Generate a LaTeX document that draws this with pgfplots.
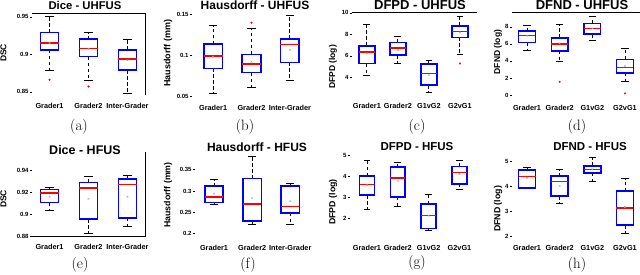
\documentclass[border=0pt]{standalone}
\usepackage{pgfplots}
\pgfplotsset{compat=1.18}
\usepgfplotslibrary{statistics}
\usepackage{fontspec}
\newfontfamily\arial{Liberation Sans}
\newcommand\fs[1]{\fontsize{#1}{#1}\selectfont}
\pgfplotsset{
  bp/.style={scale only axis, clip=false, axis line style={draw=none},
    xtick={1,2,3,4}, xtick style={draw=none}, ytick style={draw=black,line width=0.4pt},
    major tick length=1.8pt, tick align=outside, ytick pos=left, xtick pos=bottom,
    yticklabel style={font=\arial\bfseries\fs{6}, inner sep=1.5pt},
    xticklabel style={font=\arial\bfseries\fs{7.3}, yshift=-3pt},
    boxplot/draw direction=y,
    boxplot/whisker extend=0.22,
    boxplot/every box/.style={draw=blue, line width=1.6pt},
    boxplot/every median/.style={draw=red, line width=1.5pt},
    boxplot/draw/lower whisker/.code={%
      \draw[black, line width=0.9pt, dash pattern=on 3.5pt off 2.5pt]
        (boxplot box cs:\pgfplotsboxplotvalue{lower quartile},0.5) --
        (boxplot box cs:\pgfplotsboxplotvalue{lower whisker},0.5);
      \draw[black, line width=1pt, solid]
        (boxplot whisker cs:\pgfplotsboxplotvalue{lower whisker},0) --
        (boxplot whisker cs:\pgfplotsboxplotvalue{lower whisker},1);
    },
    boxplot/draw/upper whisker/.code={%
      \draw[black, line width=0.9pt, dash pattern=on 3.5pt off 2.5pt]
        (boxplot box cs:\pgfplotsboxplotvalue{upper quartile},0.5) --
        (boxplot box cs:\pgfplotsboxplotvalue{upper whisker},0.5);
      \draw[black, line width=1pt, solid]
        (boxplot whisker cs:\pgfplotsboxplotvalue{upper whisker},0) --
        (boxplot whisker cs:\pgfplotsboxplotvalue{upper whisker},1);
    },
  },
  bx/.style n args={6}{boxplot prepared={median=#1, upper quartile=#2, lower quartile=#3, upper whisker=#4, lower whisker=#5, draw position=#6}, mark=*, mark size=0.8pt, mark options={draw=red, fill=red, solid}},
  mn/.style={only marks, mark=x, mark size=1.1pt, gray!70, forget plot},
}
\begin{document}
\begin{tikzpicture}
\path[use as bounding box] (0pt,0pt) rectangle (640pt,-274pt);
% ---------- (a)
\begin{axis}[bp, at={(32pt,-95pt)}, anchor=south west, width=113pt, height=82pt,
  xmin=0.55, xmax=3.45, ymin=0.8457, ymax=0.955, boxplot/box extend=0.47,
  ytick={0.85,0.9,0.95}, yticklabels={0.85,0.9,0.95}, xticklabels={Grader1,Grader2,Inter-Grader}]
\addplot[bx={0.915}{0.929}{0.906}{0.951}{0.879}{1}] table[row sep=\\,y index=0] {0.866\\};
\addplot[bx={0.908}{0.920}{0.897}{0.929}{0.865}{2}] table[row sep=\\,y index=0] {0.857\\};
\addplot[bx={0.894}{0.906}{0.879}{0.920}{0.848}{3}] coordinates {};
\addplot[mn] coordinates {(1,0.915) (2,0.907) (3,0.892)};
\draw[black, line width=0.6pt] (rel axis cs:0,1) -- (rel axis cs:1,1) -- (rel axis cs:1,0);
\end{axis}
% ---------- (b)
\begin{axis}[bp, at={(192pt,-97pt)}, anchor=south west, width=119pt, height=84pt,
  xmin=0.45, xmax=3.55, ymin=0.0496, ymax=0.1512, boxplot/box extend=0.49,
  ytick={0.05,0.1,0.15}, yticklabels={0.05,0.1,0.15}, xticklabels={Grader1,Grader2,Inter-Grader}]
\addplot[bx={0.0992}{0.1137}{0.0843}{0.136}{0.054}{1}] coordinates {};
\addplot[bx={0.0895}{0.1012}{0.079}{0.1327}{0.0613}{2}] table[row sep=\\,y index=0] {0.1395\\};
\addplot[bx={0.1133}{0.1198}{0.0915}{0.148}{0.069}{3}] coordinates {};
\addplot[mn] coordinates {(1,0.0984) (2,0.0923) (3,0.1065)};
\end{axis}
% ---------- (c)
\begin{axis}[bp, at={(352pt,-95pt)}, anchor=south west, width=125pt, height=82.3pt,
  xmin=0.52, xmax=4.55, ymin=2.37, ymax=10, boxplot/box extend=0.52,
  ytick={4,6,8,10}, yticklabels={4,6,8,10}, xticklabels={Grader1,Grader2,G1vG2,G2vG1}]
\addplot[bx={6.38}{6.93}{5.29}{8.95}{4.2}{1}] coordinates {};
\addplot[bx={6.75}{7.24}{6.07}{7.77}{5.29}{2}] coordinates {};
\addplot[bx={4.37}{5.23}{3.28}{5.6}{2.57}{3}] coordinates {};
\addplot[bx={8.24}{8.79}{7.71}{9.69}{6.16}{4}] table[row sep=\\,y index=0] {5.29\\};
\addplot[mn] coordinates {(1,6.22) (2,6.53) (3,4.2) (4,8.17)};
\draw[black, line width=0.6pt] (rel axis cs:0,1) -- (rel axis cs:1,1);
\end{axis}
% ---------- (d)
\begin{axis}[bp, at={(512pt,-97pt)}, anchor=south west, width=128pt, height=84.3pt,
  xmin=0.54, xmax=4.46, ymin=-0.23, ymax=9.64, boxplot/box extend=0.51,
  ytick={0,2,4,6,8}, yticklabels={0,2,4,6,8}, xticklabels={Grader1,Grader2,G1vG2,G2vG1}]
\addplot[bx={6.95}{7.49}{6.13}{8.12}{5.27}{1}] coordinates {};
\addplot[bx={5.97}{6.71}{5.19}{8.31}{3.9}{2}] table[row sep=\\,y index=0] {1.55\\};
\addplot[bx={7.8}{8.39}{7.14}{9.25}{6.36}{3}] coordinates {};
\addplot[bx={3.23}{4.17}{2.61}{5.46}{1.63}{4}] table[row sep=\\,y index=0] {0.19\\};
\addplot[mn] coordinates {(1,6.95) (2,6.05) (3,7.8) (4,3.39)};
\draw[black, line width=0.6pt] (rel axis cs:0,1) -- (rel axis cs:1,1);
\end{axis}
% ---------- (e)
\begin{axis}[bp, at={(32pt,-236.3pt)}, anchor=south west, width=113pt, height=84.3pt,
  xmin=0.55, xmax=3.45, ymin=0.88, ymax=0.9566, boxplot/box extend=0.47,
  ytick={0.88,0.9,0.92,0.94}, yticklabels={0.88,0.9,0.92,0.94}, xticklabels={Grader1,Grader2,Inter-Grader}]
\addplot[bx={0.9194}{0.9224}{0.9106}{0.924}{0.9036}{1}] coordinates {};
\addplot[bx={0.924}{0.929}{0.8955}{0.934}{0.8824}{2}] coordinates {};
\addplot[bx={0.927}{0.932}{0.8967}{0.935}{0.889}{3}] coordinates {};
\addplot[mn] coordinates {(1,0.916) (2,0.914) (3,0.916)};
\draw[black, line width=0.6pt] (rel axis cs:0,0) -- (rel axis cs:1,0) -- (rel axis cs:1,1);
\end{axis}
% ---------- (f)
\begin{axis}[bp, at={(195pt,-237pt)}, anchor=south west, width=117pt, height=85pt,
  xmin=0.5, xmax=3.57, ymin=0.192, ymax=0.3915, boxplot/box extend=0.48,
  ytick={0.2,0.25,0.3,0.35}, yticklabels={0.2,0.25,0.3,0.35}, xticklabels={Grader1,Grader2,Inter-Grader}]
\addplot[bx={0.286}{0.3117}{0.2734}{0.3266}{0.2688}{1}] coordinates {};
\addplot[bx={0.269}{0.329}{0.2297}{0.381}{0.222}{2}] coordinates {};
\addplot[bx={0.264}{0.3117}{0.249}{0.317}{0.221}{3}] coordinates {};
\addplot[mn] coordinates {(1,0.294) (2,0.2836) (3,0.276)};
\end{axis}
% ---------- (g)
\begin{axis}[bp, at={(350pt,-237pt)}, anchor=south west, width=128pt, height=85pt,
  xmin=0.45, xmax=4.6, ymin=1.09, ymax=5.16, boxplot/box extend=0.48,
  ytick={2,3,4,5}, yticklabels={2,3,4,5}, xticklabels={Grader1,Grader2,G1vG2,G2vG1}]
\addplot[bx={3.61}{4.0}{3.09}{4.73}{2.4}{1}] coordinates {};
\addplot[bx={3.92}{4.44}{3.01}{4.68}{2.53}{2}] coordinates {};
\addplot[bx={2.11}{2.66}{1.49}{3.12}{1.41}{3}] coordinates {};
\addplot[bx={4.19}{4.47}{3.64}{4.73}{3.36}{4}] coordinates {};
\addplot[mn] coordinates {(1,3.57) (2,3.76) (3,2.11) (4,4.12)};
\end{axis}
% ---------- (h)
\begin{axis}[bp, at={(512pt,-237pt)}, anchor=south west, width=128pt, height=85pt,
  xmin=0.54, xmax=4.46, ymin=1.96, ymax=5.36, boxplot/box extend=0.52,
  ytick={2,3,4,5}, yticklabels={2,3,4,5}, xticklabels={Grader1,Grader2,G1vG2,G2vG1}]
\addplot[bx={4.39}{4.63}{3.92}{4.76}{3.92}{1}] coordinates {};
\addplot[bx={4.19}{4.4}{3.59}{4.65}{3.32}{2}] coordinates {};
\addplot[bx={4.67}{4.81}{4.53}{5.16}{4.19}{3}] coordinates {};
\addplot[bx={3.12}{3.79}{2.43}{4.29}{2.12}{4}] coordinates {};
\addplot[mn] coordinates {(1,4.33) (2,4.0) (3,4.67) (4,3.16)};
\end{axis}
% ---------- titles
\node[font=\arial\bfseries\fs{11.3}] at (85pt,-5.5pt) {Dice - UHFUS};
\node[font=\arial\bfseries\fs{12}] at (255pt,-5pt) {Hausdorff - UHFUS};
\node[font=\arial\bfseries\fs{13}] at (420pt,-5pt) {DFPD - UHFUS};
\node[font=\arial\bfseries\fs{13}] at (582pt,-5pt) {DFND - UHFUS};
\node[font=\arial\bfseries\fs{12.5}] at (85pt,-150pt) {Dice - HFUS};
\node[font=\arial\bfseries\fs{12}] at (257pt,-147pt) {Hausdorff - HFUS};
\node[font=\arial\bfseries\fs{11.5}] at (417pt,-147pt) {DFPD - HFUS};
\node[font=\arial\bfseries\fs{11.5}] at (590pt,-147pt) {DFND - HFUS};
% ---------- y labels
\node[rotate=90, font=\arial\bfseries\fs{8.5}] at (3.5pt,-53pt) {DSC};
\node[rotate=90, font=\arial\bfseries\fs{9}] at (168pt,-53pt) {Hausdorff (mm)};
\node[rotate=90, font=\arial\bfseries\fs{8.5}] at (333pt,-67pt) {DFPD (log)};
\node[rotate=90, font=\arial\bfseries\fs{8.5}] at (498pt,-52pt) {DFND (log)};
\node[rotate=90, font=\arial\bfseries\fs{8.5}] at (3.5pt,-199pt) {DSC};
\node[rotate=90, font=\arial\bfseries\fs{8.8}] at (168pt,-195pt) {Hausdorff (mm)};
\node[rotate=90, font=\arial\bfseries\fs{8.8}] at (333pt,-202pt) {DFPD (log)};
\node[rotate=90, font=\arial\bfseries\fs{8.8}] at (498pt,-209pt) {DFND (log)};
% ---------- captions
\node[font=\fs{15}] at (79pt,-127pt) {(a)};
\node[font=\fs{15}] at (245pt,-127pt) {(b)};
\node[font=\fs{15}] at (417pt,-127pt) {(c)};
\node[font=\fs{15}] at (577pt,-127pt) {(d)};
\node[font=\fs{15}] at (80pt,-265pt) {(e)};
\node[font=\fs{15}] at (248pt,-265pt) {(f)};
\node[font=\fs{15}] at (417pt,-263pt) {(g)};
\node[font=\fs{15}] at (577pt,-265pt) {(h)};
\end{tikzpicture}
\end{document}
